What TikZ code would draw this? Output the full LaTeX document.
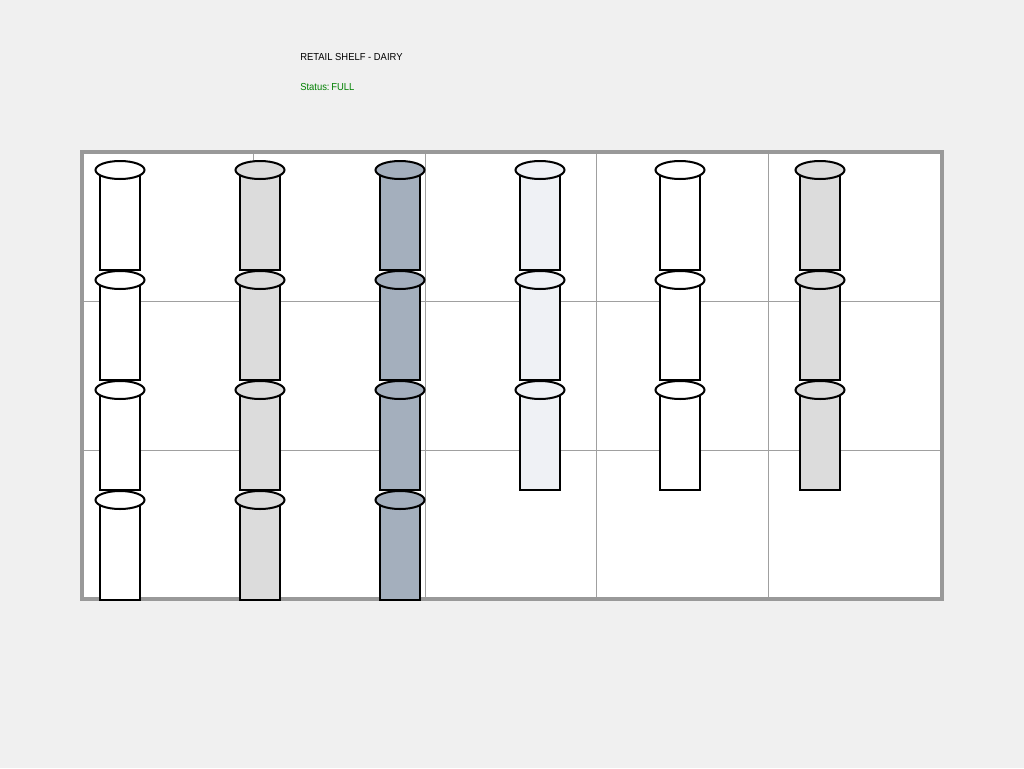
\documentclass[tikz,border=0pt]{standalone}
\usepackage{fontspec}
\setmainfont{Liberation Sans}
\newfontfamily\labelfont[FakeStretch=0.93]{Liberation Sans}
\usetikzlibrary{positioning}

\definecolor{backcol}{RGB}{240,240,240}
\definecolor{shelfgray}{RGB}{153,153,153}
\definecolor{gridgray}{RGB}{160,160,160}
\definecolor{milkgray}{RGB}{220,220,220}
\definecolor{slate}{RGB}{164,175,189}
\definecolor{paleblue}{RGB}{239,241,245}
\definecolor{statusgreen}{RGB}{0,128,0}

\begin{document}
\begin{tikzpicture}[x=0.75pt, y=-0.75pt, font=\labelfont\fontsize{7.6}{9}\selectfont]
    \fill[backcol] (0,0) rectangle (1024,768);
    \node[anchor=west, inner sep=0] (title) at (300,57) {RETAIL SHELF - DAIRY};
    \node[anchor=west, inner sep=0, text=statusgreen] (status) at (300,87) {Status:\,FULL};
    % shelf and its cells
    \fill[white] (82,152) rectangle (942,599);
    \foreach \x in {253.5,425,596.5,768}
        \draw[gridgray, line width=0.75pt] (\x,152) -- (\x,599);
    \foreach \y in {301,450}
        \draw[gridgray, line width=0.75pt] (82,\y) -- (942,\y);
    \draw[shelfgray, line width=3pt] (82,152) rectangle (942,599);
    % cans, column by column
    \foreach \x/\c/\n in {120/white/4, 260/milkgray/4, 400/slate/4, 540/paleblue/3, 680/white/3, 820/milkgray/3}
        \foreach \r in {1,...,\n} {
            \pgfmathsetmacro\y{60+110*\r}
            \draw[fill=\c, line width=1.5pt] (\x-20,\y) rectangle (\x+20,\y+100);
            \draw[fill=\c, line width=1.5pt] (\x,\y) ellipse [x radius=24.5, y radius=9];
        }
\end{tikzpicture}
\end{document}
